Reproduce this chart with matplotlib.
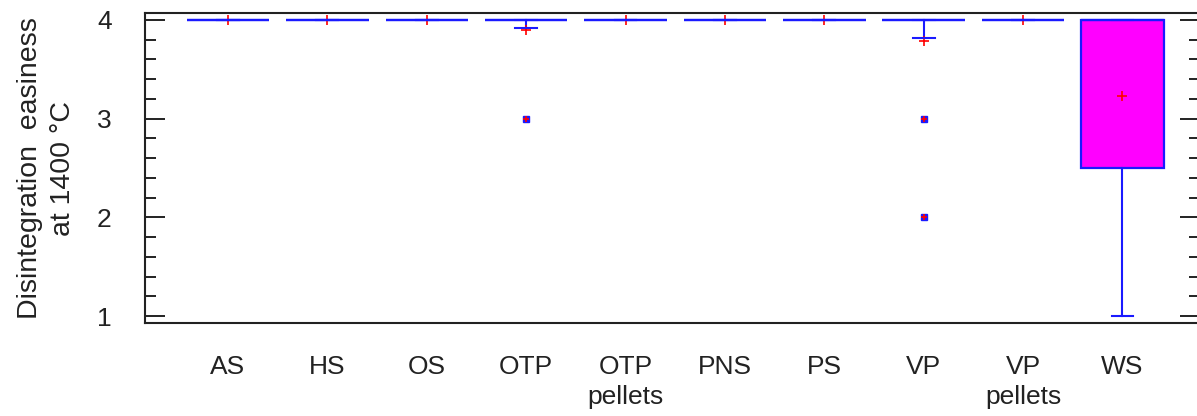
import matplotlib
matplotlib.use("Agg")
import matplotlib.pyplot as plt
from matplotlib.ticker import MultipleLocator

plt.rcParams['font.family'] = ['Liberation Sans', 'DejaVu Sans']

categories = ["AS", "HS", "OS", "OTP", "OTP\npellets", "PNS", "PS", "VP", "VP\npellets", "WS"]
q1 = [4, 4, 4, 4, 4, 4, 4, 4, 4, 2.5]
q3 = [4, 4, 4, 4, 4, 4, 4, 4, 4, 4]
medians = [4, 4, 4, 4, 4, 4, 4, 4, 4, 4]
whislo = [4, 4, 4, 3.92, 4, 4, 4, 3.82, 4, 1.0]
whishi = [4, 4, 4, 4, 4, 4, 4, 4, 4, 4]
means = [4, 4, 4, 3.9, 4, 4, 4, 3.79, 4, 3.23]
fliers = [[], [], [], [3], [], [], [], [3, 2], [], []]

stats = []
for i, c in enumerate(categories):
    stats.append(dict(label=c, q1=q1[i], q3=q3[i], med=medians[i], whislo=whislo[i],
                      whishi=whishi[i], mean=means[i], fliers=fliers[i]))

fig = plt.figure(figsize=(11.97, 4.16), dpi=100)
ax = fig.add_axes([145/1197, 1-323/416, (1200-145)/1197, (323-13)/416])

positions = list(range(1, len(categories) + 1))
ax.bxp(stats, positions=positions, widths=0.83, capwidths=0.22,
       showmeans=True, patch_artist=True,
       boxprops=dict(facecolor='#FF00FF', edgecolor='#1a1aff', linewidth=1.6, zorder=2),
       whiskerprops=dict(color='#1a1aff', linewidth=1.5, zorder=2),
       capprops=dict(color='#1a1aff', linewidth=1.5, zorder=4),
       medianprops=dict(color='#1a1aff', linewidth=1.6, zorder=4),
       meanprops=dict(marker='+', markeredgecolor='red', markersize=6.5, markeredgewidth=1.2, zorder=3),
       flierprops=dict(marker='s', markerfacecolor='#1a1aff', markeredgecolor='#1a1aff', markersize=4.2, zorder=5))

for i, f in enumerate(fliers):
    if f:
        ax.plot([positions[i]] * len(f), f, linestyle='none', marker='+', color='red',
                markersize=5, markeredgewidth=1.2, zorder=6)

ax.set_xlim(0.165, 10.78)
ax.set_ylim(0.93, 4.07)
ax.set_xticks(positions)
ax.set_xticklabels(categories, fontsize=19, color='#222222', linespacing=1.3, va='top')
ax.tick_params(axis='x', length=0, pad=23)

ax.yaxis.set_major_locator(MultipleLocator(1))
ax.yaxis.set_minor_locator(MultipleLocator(0.2))
ax.tick_params(axis='y', which='major', direction='in', length=14.5, width=1.4, right=True,
               labelsize=19, pad=24, colors='#222222')
ax.tick_params(axis='y', which='minor', direction='in', length=8, width=1.4, right=True,
               colors='#222222')

for s in ax.spines.values():
    s.set_linewidth(1.5)
    s.set_color('#222222')

ax.set_ylabel("Disintegration  easiness\nat 1400 \u00b0C", fontsize=20.5, color='#222222', labelpad=15,
              linespacing=1.35)

fig.savefig("out.png", dpi=100)
